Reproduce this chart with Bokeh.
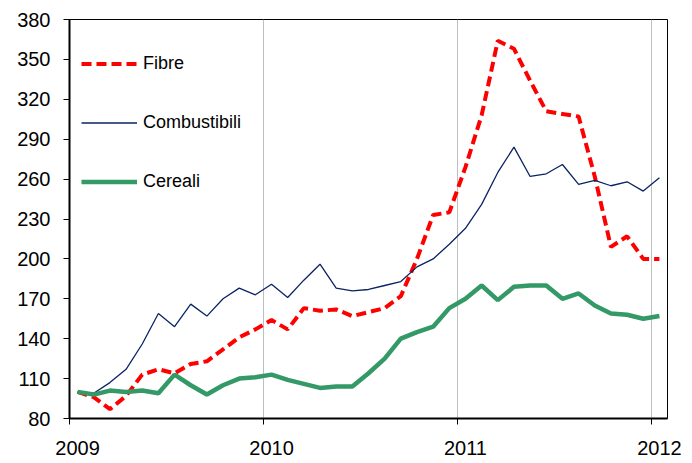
import pandas as pd
from bokeh.plotting import figure
from bokeh.models import (Range1d, FixedTicker, CustomJSTickFormatter, Legend,
                          LegendItem, ColumnDataSource)
from bokeh.embed import file_html
from bokeh.resources import INLINE

# ---- data (monthly index, Jan 2009 = 100) ----
years = [2009, 2010, 2011, 2012]
months = pd.date_range("2009-01-01", periods=37, freq="MS")
fibre = [100, 96, 87, 97, 113, 117, 114, 121, 123, 132, 141, 147,
         154, 147, 163, 161, 162, 157, 160, 163, 172, 200, 233, 235,
         269, 308, 364, 358, 334, 311, 309, 307, 262, 209, 217, 200, 200]
combustibili = [100, 99, 107, 117, 136, 159, 149, 166, 157, 170, 178, 173,
                181, 171, 184, 196, 178, 176, 177, 180, 183, 194, 200, 211,
                223, 241, 265, 284, 262, 264, 271, 256, 259, 255, 258, 251, 261]
cereali = [100, 98, 101, 100, 101, 99, 113, 105, 98, 105, 110, 111,
           113, 109, 106, 103, 104, 104, 114, 125, 140, 145, 149, 163,
           170, 180, 169, 179, 180, 180, 170, 174, 165, 159, 158, 155, 157]
y_ticks = [80, 110, 140, 170, 200, 230, 260, 290, 320, 350, 380]
series_names = ["Fibre", "Combustibili", "Cereali"]

# x position = middle of each month
x = [m.year + (m.month - 0.5) / 12 for m in months]
label_pos = [yr + 0.5 / 12 for yr in years]

src = ColumnDataSource(dict(x=x, fibre=fibre, comb=combustibili, cer=cereali))

FONT = "Liberation Sans"

p = figure(width=692, height=463, output_backend="svg", toolbar_location=None,
           x_range=Range1d(2009, 2012 + 1 / 12), y_range=Range1d(80, 380),
           min_border_left=69, min_border_right=25, min_border_top=19,
           min_border_bottom=45)
p.background_fill_color = "white"
p.border_fill_color = "white"
p.outline_line_color = "black"
p.outline_line_width = 1

# grid
p.ygrid.grid_line_color = None
p.xgrid.ticker = FixedTicker(ticks=years[1:])
p.xgrid.grid_line_color = "#BFBFBF"
p.xgrid.grid_line_width = 1

# x axis: labels centred on mid-January, tick marks at year boundaries
xa = p.xaxis[0]
xa.ticker = FixedTicker(ticks=label_pos, minor_ticks=years)
xa.formatter = CustomJSTickFormatter(code="return Math.floor(tick).toString();")
xa.major_tick_line_color = None
xa.major_tick_out = 6
xa.major_tick_in = 0
xa.minor_tick_line_color = "black"
xa.minor_tick_out = 6
xa.minor_tick_in = 0
xa.axis_line_color = "black"
xa.axis_line_width = 2
xa.major_label_standoff = 16
xa.major_label_text_font = FONT
xa.major_label_text_font_size = "20px"
xa.major_label_text_color = "black"

ya = p.yaxis[0]
ya.ticker = FixedTicker(ticks=y_ticks)
ya.minor_tick_line_color = None
ya.major_tick_line_color = "black"
ya.major_tick_out = 6
ya.major_tick_in = 0
ya.axis_line_color = "black"
ya.axis_line_width = 2
ya.major_label_standoff = 13
ya.major_label_text_font = FONT
ya.major_label_text_font_size = "20px"
ya.major_label_text_color = "black"

r_f = p.line("x", "fibre", source=src, line_color="#FF0000", line_width=4,
             line_dash="10 5")
r_c = p.line("x", "comb", source=src, line_color="#0A2463", line_width=1.3)
r_g = p.line("x", "cer", source=src, line_color="#339966", line_width=4.5)

legend = Legend(items=[LegendItem(label=series_names[0], renderers=[r_f]),
                       LegendItem(label=series_names[1], renderers=[r_c]),
                       LegendItem(label=series_names[2], renderers=[r_g])],
                location=(12, 226), orientation="vertical",
                glyph_width=56, glyph_height=21, label_height=21,
                label_standoff=6, spacing=38, padding=0, margin=0,
                border_line_color=None, background_fill_alpha=0,
                label_text_font=FONT, label_text_font_size="18px",
                label_text_color="black")
p.add_layout(legend, "center")

open("out.html", "w").write(file_html(p, INLINE))
